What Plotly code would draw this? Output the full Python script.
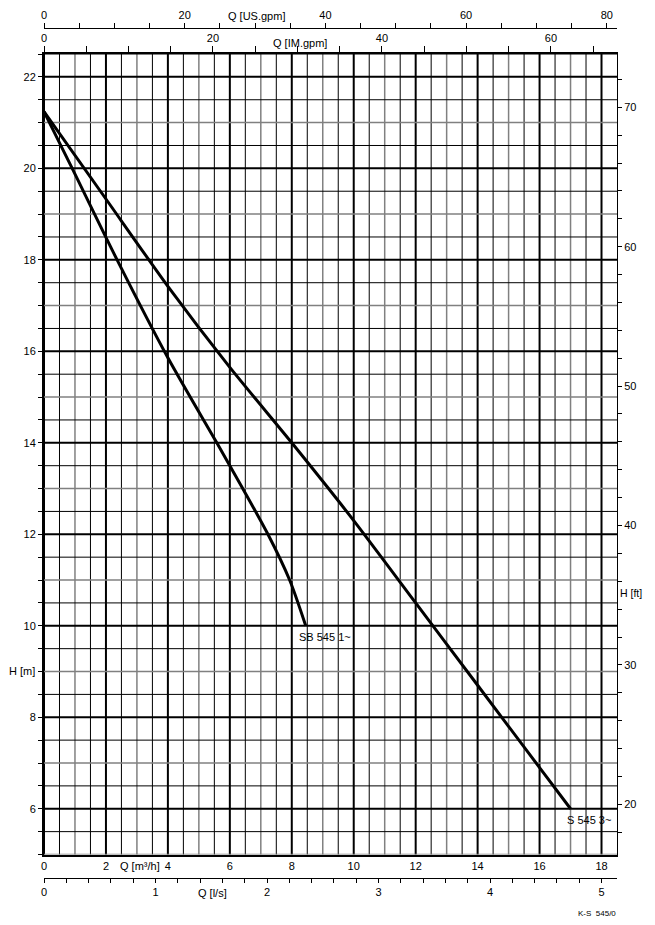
import numpy as np
import plotly.graph_objects as go

# ---------------- data ----------------
q_s545_3 = [0.0, 2.0, 4.0, 6.0, 8.0, 10.0, 12.0, 14.0, 16.0, 17.0]         # m3/h
h_s545_3 = [21.24, 19.33, 17.42, 15.65, 14.0, 12.3, 10.5, 8.7, 6.9, 6.0]   # m
q_sb545_1 = [0.0, 0.91, 2.36, 4.0, 5.58, 6.0, 7.23, 7.93, 8.45]           # m3/h
h_sb545_1 = [21.24, 20.0, 18.0, 15.86, 14.0, 13.5, 12.0, 11.0, 10.0]      # m
curve_names = ["S 545 3~", "SB 545 1~"]

m3h_ticks = [0, 2, 4, 6, 8, 10, 12, 14, 16, 18]
ls_ticks = [0, 1, 2, 3, 4, 5]
usgpm_ticks = [0, 20, 40, 60, 80]
imgpm_ticks = [0, 20, 40, 60]
hm_ticks = [6, 8, 10, 12, 14, 16, 18, 20, 22]
hft_ticks = [20, 30, 40, 50, 60, 70]

# ---------------- scales ----------------
Q_MAX = 18.5
H_MIN, H_MAX = 5.0, 22.5
M3H_PER_LS = 3.6
M3H_PER_USGPM = 0.227125
M3H_PER_IMGPM = 0.272765
M_PER_FT = 0.3048

OFF = 8                      # page body margin
W, HGT = 655 - OFF, 925 - 2 * OFF
ML = 44 - OFF
MR = W - (617.5 - OFF)
TOP_PX, BOT_PX = 54, 854.5   # page coordinates


def py(px):                  # page y -> paper fraction
    return 1 - (px - OFF) / HGT


def px_x(px):                # page x -> paper fraction
    return (px - OFF - ML) / (W - ML - MR)


FONT = "Liberation Sans, Arial, sans-serif"
font = dict(family=FONT, size=11, color="black")

fig = go.Figure()

fig.add_trace(go.Scatter(x=q_s545_3, y=h_s545_3, mode="lines", name=curve_names[0],
                         line=dict(color="black", width=3, shape="spline", smoothing=0.6),
                         hoverinfo="skip"))
fig.add_trace(go.Scatter(x=q_sb545_1, y=h_sb545_1, mode="lines", name=curve_names[1],
                         line=dict(color="black", width=3, shape="spline", smoothing=0.8),
                         hoverinfo="skip"))

# invisible anchors so the secondary unit axes get drawn
for xa in ["x2", "x3", "x4"]:
    fig.add_trace(go.Scatter(x=[0], y=[H_MIN], xaxis=xa, yaxis="y", mode="markers",
                             marker=dict(opacity=0, size=1), hoverinfo="skip", showlegend=False))
fig.add_trace(go.Scatter(x=[0], y=[hft_ticks[0]], xaxis="x", yaxis="y2", mode="markers",
                         marker=dict(opacity=0, size=1), hoverinfo="skip", showlegend=False))

# ---------------- grid ----------------
shapes = []
for q in np.arange(0, 18.01, 0.5):
    if q % 2 == 0:
        c, w = "black", 2
    elif q % 1 == 0:
        c, w = "#808080", 1.5
    else:
        c, w = "black", 1
    shapes.append(dict(type="line", xref="x", yref="y domain", x0=q, x1=q, y0=0, y1=1,
                       line=dict(color=c, width=w), layer="below"))
for h in np.arange(5.0, 22.51, 0.5):
    if h % 2 == 0:
        c, w = "black", 2
    elif h % 1 == 0:
        c, w = "#808080", 1.5
    else:
        c, w = "black", 1
    shapes.append(dict(type="line", xref="x domain", yref="y", x0=0, x1=1, y0=h, y1=h,
                       line=dict(color=c, width=w), layer="below"))

tickfont = dict(family=FONT, size=11, color="black")

fig.update_layout(
    width=W, height=HGT,
    margin=dict(l=ML, r=MR, t=0, b=0),
    paper_bgcolor="white", plot_bgcolor="white",
    showlegend=False, font=font,
    shapes=shapes,
    xaxis=dict(range=[0, Q_MAX], domain=[0, 1], anchor="y", side="bottom",
               tickmode="array", tickvals=m3h_ticks, ticks="", showgrid=False, zeroline=False,
               showline=True, linecolor="black", linewidth=2, tickfont=tickfont),
    yaxis=dict(range=[H_MIN, H_MAX], domain=[py(BOT_PX), py(TOP_PX)], anchor="x", side="left",
               tickmode="array", tickvals=hm_ticks, ticks="outside", ticklen=4, tickcolor="black",
               minor=dict(tickmode="linear", tick0=0, dtick=0.5, ticks="outside", ticklen=4,
                          tickcolor="black", showgrid=False),
               showgrid=False, zeroline=False, showline=True, linecolor="black", linewidth=2,
               tickfont=tickfont),
    yaxis2=dict(overlaying="y", anchor="x", side="right",
                range=[H_MIN / M_PER_FT, H_MAX / M_PER_FT],
                tickmode="array", tickvals=hft_ticks, ticks="outside", ticklen=4, tickcolor="black",
                minor=dict(tickmode="linear", tick0=0, dtick=2, ticks="outside", ticklen=4,
                           tickcolor="black", showgrid=False),
                showgrid=False, zeroline=False, showline=True, linecolor="black", linewidth=1,
                tickfont=tickfont),
    xaxis2=dict(overlaying="x", anchor="free", position=py(28), side="top",
                range=[0, Q_MAX / M3H_PER_USGPM],
                tickmode="array", tickvals=usgpm_ticks, ticks="outside", ticklen=5, tickcolor="black",
                minor=dict(tickmode="linear", tick0=0, dtick=5, ticks="outside", ticklen=5,
                           tickcolor="black", showgrid=False),
                showgrid=False, zeroline=False, showline=True, linecolor="black", linewidth=1,
                tickfont=tickfont),
    xaxis3=dict(overlaying="x", anchor="y", side="top",
                range=[0, Q_MAX / M3H_PER_IMGPM],
                tickmode="array", tickvals=imgpm_ticks, ticks="outside", ticklen=6, tickcolor="black",
                minor=dict(tickmode="linear", tick0=0, dtick=5, ticks="outside", ticklen=6,
                           tickcolor="black", showgrid=False),
                showgrid=False, zeroline=False, showline=True, linecolor="black", linewidth=1.5,
                tickfont=tickfont),
    xaxis4=dict(overlaying="x", anchor="free", position=py(878), side="bottom",
                range=[0, Q_MAX / M3H_PER_LS],
                tickmode="array", tickvals=ls_ticks, ticks="outside", ticklen=4, tickcolor="black",
                minor=dict(tickmode="linear", tick0=0, dtick=0.2, ticks="outside", ticklen=4,
                           tickcolor="black", showgrid=False),
                showgrid=False, zeroline=False, showline=True, linecolor="black", linewidth=1,
                tickfont=tickfont),
)

ann = []
# axis titles
ann.append(dict(text="Q [US.gpm]", xref="paper", yref="paper", x=px_x(257), y=py(16),
                showarrow=False, font=font, xanchor="center", yanchor="middle"))
ann.append(dict(text="Q [IM.gpm]", xref="paper", yref="paper", x=px_x(300), y=py(43),
                showarrow=False, font=font, xanchor="center", yanchor="middle"))
ann.append(dict(text="Q [m³/h]", xref="paper", yref="paper", x=px_x(140), y=py(866),
                showarrow=False, font=font, xanchor="center", yanchor="middle"))
ann.append(dict(text="Q [l/s]", xref="paper", yref="paper", x=px_x(213), y=py(893),
                showarrow=False, font=font, xanchor="center", yanchor="middle"))
ann.append(dict(text="H [m]", xref="paper", yref="paper", x=px_x(22), y=py(671),
                showarrow=False, font=font, xanchor="center", yanchor="middle"))
ann.append(dict(text="H [ft]", xref="paper", yref="paper", x=px_x(645), y=py(593),
                showarrow=False, font=dict(family=FONT, size=10.5, color="black"),
                xanchor="right", yanchor="middle"))
ann.append(dict(text="K-S_545/0", xref="paper", yref="paper", x=px_x(619), y=py(913),
                showarrow=False, font=dict(family=FONT, size=8, color="black"),
                xanchor="right", yanchor="middle"))
# curve labels
ann.append(dict(text=curve_names[1], x=q_sb545_1[-1], y=h_sb545_1[-1], xref="x", yref="y",
                showarrow=False, font=font, xanchor="left", yanchor="top", xshift=-9, yshift=-3))
ann.append(dict(text=curve_names[0], x=q_s545_3[-1], y=h_s545_3[-1], xref="x", yref="y",
                showarrow=False, font=font, xanchor="left", yanchor="top", xshift=-6, yshift=-3))
fig.update_layout(annotations=ann)

fig.write_html("out.html")
